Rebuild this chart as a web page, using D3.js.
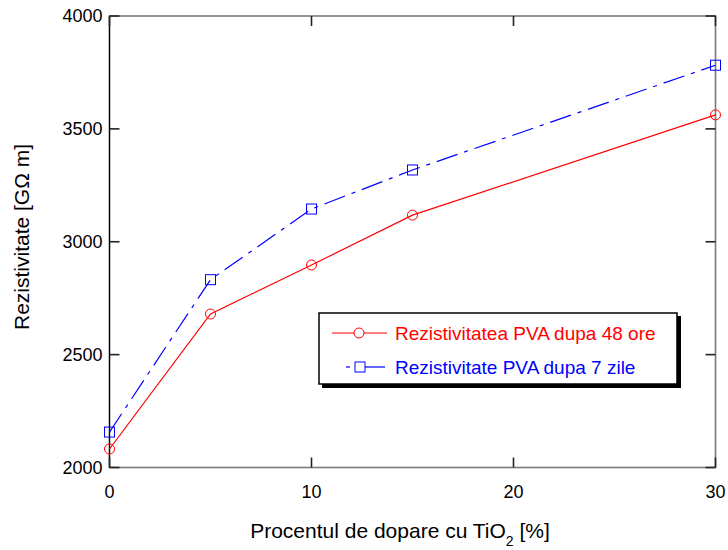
<!DOCTYPE html>
<html>
<head>
<meta charset="utf-8">
<script src="https://cdn.jsdelivr.net/npm/d3@7"></script>
<style>
  html, body { margin: 0; padding: 0; background: #fff; }
  svg { display: block; font-family: "Liberation Sans", Arial, sans-serif; }
</style>
</head>
<body>
<svg id="chart" width="728" height="550"></svg>
<script>
// Doping percentage of TiO2
const dopingPercent = [0, 5, 10, 15, 30];
// Resistivity after 48 hours
const resistivity48h = [2082, 2680, 2897, 3118, 3562];
// Resistivity after 7 days
const resistivity7d = [2157, 2832, 3145, 3318, 3782];
const xTicks = [0, 10, 20, 30];
const yTicks = [2000, 2500, 3000, 3500, 4000];
const seriesNames = ["Rezistivitatea PVA dupa 48 ore", "Rezistivitate PVA dupa 7 zile"];

(function () {
const svg = d3.select("#chart");
const plotL = 109.5, plotR = 715.5, plotT = 16, plotB = 467.5;

const x = d3.scaleLinear().domain([0, 30]).range([plotL, plotR]);
const y = d3.scaleLinear().domain([2000, 4000]).range([plotB, plotT]);

// frame
svg.append("rect")
  .attr("x", plotL).attr("y", plotT)
  .attr("width", plotR - plotL).attr("height", plotB - plotT)
  .attr("fill", "none").attr("stroke", "#7a7a7a").attr("stroke-width", 1.6);
svg.append("line")
  .attr("x1", plotL).attr("x2", plotL).attr("y1", plotT).attr("y2", plotB)
  .attr("stroke", "#000").attr("stroke-width", 1.2);

// inward ticks on all four sides
const tickLen = 10;
const tickG = svg.append("g").attr("stroke", "#222").attr("stroke-width", 1.6);
yTicks.forEach(v => {
  tickG.append("line").attr("x1", plotL).attr("x2", plotL + tickLen).attr("y1", y(v)).attr("y2", y(v));
  tickG.append("line").attr("x1", plotR).attr("x2", plotR - tickLen).attr("y1", y(v)).attr("y2", y(v));
});
xTicks.forEach(v => {
  tickG.append("line").attr("x1", x(v)).attr("x2", x(v)).attr("y1", plotB).attr("y2", plotB - tickLen);
  tickG.append("line").attr("x1", x(v)).attr("x2", x(v)).attr("y1", plotT).attr("y2", plotT + tickLen);
});

// tick labels
svg.append("g").selectAll("text").data(yTicks).join("text")
  .attr("x", plotL - 7).attr("y", d => y(d)).attr("dy", "0.35em")
  .attr("text-anchor", "end").attr("font-size", 18).attr("fill", "#000")
  .text(d => d);
svg.append("g").selectAll("text").data(xTicks).join("text")
  .attr("x", d => x(d)).attr("y", plotB + 24).attr("dy", "0.35em")
  .attr("text-anchor", "middle").attr("font-size", 18).attr("fill", "#000")
  .text(d => d);

// axis titles
const xt = svg.append("text")
  .attr("x", 400).attr("y", 538)
  .attr("text-anchor", "middle").attr("font-size", 21).attr("fill", "#000");
xt.append("tspan").text("Procentul de dopare cu TiO");
xt.append("tspan").attr("font-size", 14).attr("dy", 8).text("2");
xt.append("tspan").attr("dy", -8).text(" [%]");

svg.append("text")
  .attr("transform", "translate(29,237) rotate(-90)")
  .attr("text-anchor", "middle").attr("font-size", 21).attr("fill", "#000")
  .text("Rezistivitate [GΩ m]");

// series
const line = d3.line().x(d => x(d[0])).y(d => y(d[1]));
const red = "#ff0000", blue = "#0000ff";
const dash = "22,7,4,7";
const data48 = dopingPercent.map((d, i) => [d, resistivity48h[i]]);
const data7 = dopingPercent.map((d, i) => [d, resistivity7d[i]]);

svg.append("path").datum(data7).attr("d", line)
  .attr("fill", "none").attr("stroke", blue).attr("stroke-width", 1.2)
  .attr("stroke-dasharray", dash);
svg.append("g").selectAll("rect").data(data7).join("rect")
  .attr("x", d => x(d[0]) - 5).attr("y", d => y(d[1]) - 5)
  .attr("width", 10).attr("height", 10)
  .attr("fill", "none").attr("stroke", blue).attr("stroke-width", 1);

svg.append("path").datum(data48).attr("d", line)
  .attr("fill", "none").attr("stroke", red).attr("stroke-width", 1.2);
svg.append("g").selectAll("circle").data(data48).join("circle")
  .attr("cx", d => x(d[0])).attr("cy", d => y(d[1])).attr("r", 5)
  .attr("fill", "none").attr("stroke", red).attr("stroke-width", 1);

// legend with drop shadow
const lg = svg.append("g");
lg.append("rect").attr("x", 322).attr("y", 316).attr("width", 359).attr("height", 72).attr("fill", "#000");
lg.append("rect").attr("x", 319).attr("y", 313).attr("width", 358).attr("height", 71)
  .attr("fill", "#fff").attr("stroke", "#000").attr("stroke-width", 1.5);

lg.append("line").attr("x1", 332).attr("x2", 387).attr("y1", 333).attr("y2", 333)
  .attr("stroke", red).attr("stroke-width", 1.2);
lg.append("circle").attr("cx", 359).attr("cy", 333).attr("r", 5)
  .attr("fill", "#fff").attr("stroke", red);
lg.append("text").attr("x", 395).attr("y", 333).attr("dy", "0.35em")
  .attr("font-size", 19).attr("fill", red).text(seriesNames[0]);

lg.append("line").attr("x1", 346).attr("x2", 350).attr("y1", 367).attr("y2", 367)
  .attr("stroke", blue).attr("stroke-width", 1.2);
lg.append("line").attr("x1", 365).attr("x2", 385).attr("y1", 367).attr("y2", 367)
  .attr("stroke", blue).attr("stroke-width", 1.2);
lg.append("rect").attr("x", 355).attr("y", 362).attr("width", 10).attr("height", 10)
  .attr("fill", "#fff").attr("stroke", blue);
lg.append("text").attr("x", 395).attr("y", 367).attr("dy", "0.35em")
  .attr("font-size", 19).attr("fill", blue).text(seriesNames[1]);
})();
</script>
</body>
</html>
